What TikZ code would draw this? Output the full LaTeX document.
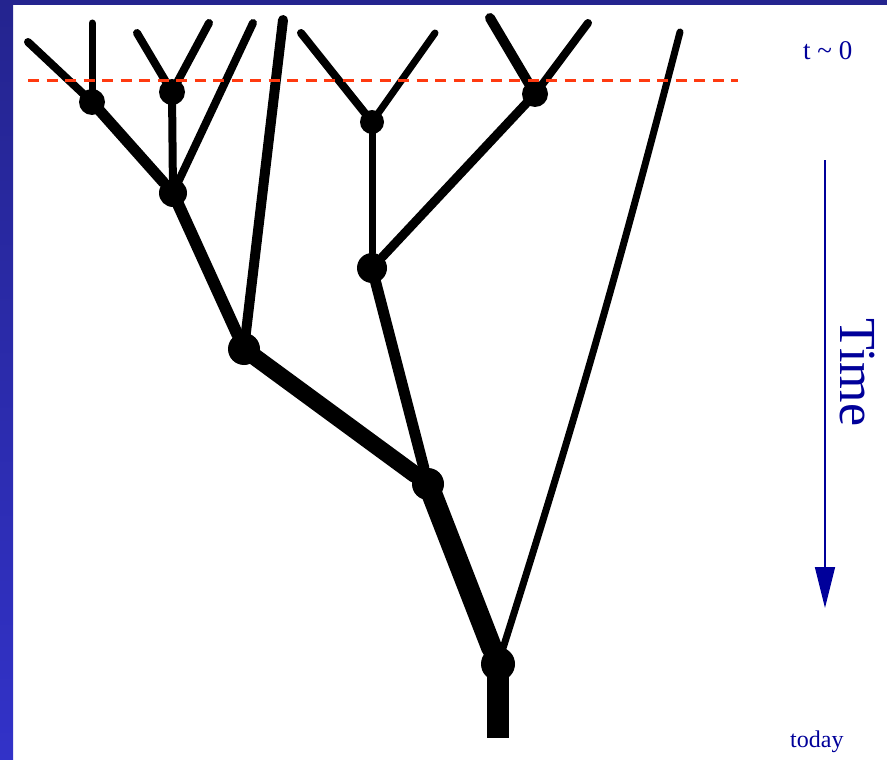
\documentclass[tikz,border=0pt]{standalone}
\usepackage{fontspec}
\setmainfont{Liberation Serif}
\usepackage{xcolor}
\usetikzlibrary{arrows.meta}
\definecolor{frameblue}{HTML}{24248F}
\definecolor{sideblue}{HTML}{3232C8}
\definecolor{textblue}{HTML}{00009A}
\definecolor{nowred}{HTML}{FF3A10}
\tikzset{
  dot/.style={circle, fill=black, inner sep=0pt},
  branch/.style={draw=black, line cap=round},
  label/.style={text=textblue, inner sep=0pt},
}

\begin{document}
\begin{tikzpicture}[x=1pt, y=-1pt]
\useasboundingbox (0,0) rectangle (887,760);
% slide frame
\fill[white] (0,0) rectangle (887,760);
\fill[frameblue] (0,0) rectangle (887,5);
\shade[top color=frameblue, bottom color=sideblue] (0,0) rectangle (13,760);
% branch points
\foreach \n/\x/\y/\r in {A/92/102/13, B/172/92/13, C/173/193/14, D/372/122/12,
    E/535/94/13, F/372/268/15, G/244/349/16, H/428/484/16, I/498/664/17} {
    \node[dot, minimum size=2*\r pt] (\n) at (\x,\y) {};
}
% leaf ends
\foreach \n/\x/\y in {lA1/28/42, lA2/92/23, lB1/137/33, lB2/209/23, lC/253/23,
    lG/283/20, lD1/301/33, lD2/435/33, lE1/490/18, lE2/588/23, lI/680/32} {
    \coordinate (\n) at (\x,\y);
}
\coordinate (root) at (498,738);
% branches
\foreach \a/\b/\w in {A/lA1/8, A/lA2/7, B/lB1/8, B/lB2/8, C/lC/8, G/lG/10,
    D/lD1/8, D/lD2/7, E/lE1/10, E/lE2/8, A/C/11, B/C/8, C/G/12, D/F/7,
    E/F/9, F/H/11, G/H/17, H/I/21} {
    \draw[branch, line width=\w pt] (\a.center) -- (\b);
}
\draw[branch, line width=7pt] (I.center) to[bend right=1.5] (lI);
\draw[line width=22pt] (I.center) -- (root);
% present time
\coordinate (now1) at (28,81);
\coordinate (now2) at (738,81);
\draw[nowred, line width=3pt, dash pattern=on 11pt off 7.5pt] (now1) -- (now2);
% time axis
\coordinate (tstart) at (825,160);
\coordinate (tend) at (825,608);
\draw[textblue, line width=1.5pt, -{Triangle[width=20pt, length=41pt]}] (tstart) -- (tend);
\node[label, anchor=base west, rotate=-90, font=\fontsize{52}{52}\selectfont] (time) at (840,318) {Time};
\node[label, anchor=base west, font=\fontsize{27}{27}\selectfont] (tzero) at (803,60) {t \textasciitilde{} 0};
\node[label, anchor=base west, font=\fontsize{24}{24}\selectfont] (today) at (790,747) {today};
\end{tikzpicture}
\end{document}
